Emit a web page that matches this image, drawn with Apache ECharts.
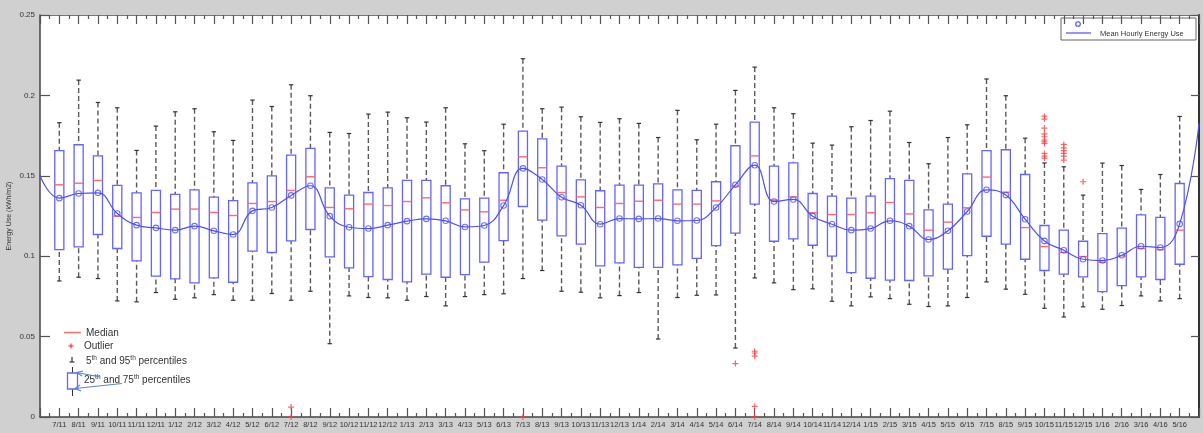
<!DOCTYPE html>
<html>
<head>
<meta charset="utf-8">
<script src="https://cdn.jsdelivr.net/npm/echarts@6/dist/echarts.min.js"></script>
<style>
html,body{margin:0;padding:0;background:#d0d0d0;}
#chart{width:1203px;height:433px;}
</style>
</head>
<body>
<div id="chart"></div>
<script>
const categories = ['7/11','8/11','9/11','10/11','11/11','12/11','1/12','2/12','3/12','4/12','5/12','6/12',
  '7/12','8/12','9/12','10/12','11/12','12/12','1/13','2/13','3/13','4/13','5/13','6/13',
  '7/13','8/13','9/13','10/13','11/13','12/13','1/14','2/14','3/14','4/14','5/14','6/14',
  '7/14','8/14','9/14','10/14','11/14','12/14','1/15','2/15','3/15','4/15','5/15','6/15',
  '7/15','8/15','9/15','10/15','11/15','12/15','1/16','2/16','3/16','4/16','5/16'];

const p95 = [0.183,0.2095,0.1956,0.1923,0.1658,0.1809,0.1898,0.1917,0.1774,0.172,0.1971,0.1931,
  0.2066,0.1998,0.177,0.1763,0.1884,0.1896,0.1861,0.1834,0.1923,0.1699,0.1656,0.1821,
  0.2228,0.1917,0.1927,0.1867,0.1832,0.1855,0.1826,0.1738,0.1907,0.1724,0.1821,0.2031,
  0.2176,0.1923,0.1886,0.1703,0.1691,0.1805,0.1844,0.1902,0.1707,0.1575,0.1738,0.1817,
  0.2102,0.1998,0.1734,0.158,0.1556,0.138,0.1579,0.1564,0.1415,0.1508,0.1869];

const q3 = [0.1656,0.1693,0.1624,0.144,0.1394,0.1409,0.1384,0.1413,0.1367,0.1346,0.1456,0.15,
  0.1628,0.167,0.1425,0.138,0.1396,0.1425,0.1471,0.1471,0.1438,0.1357,0.1361,0.1519,
  0.1778,0.173,0.156,0.1475,0.1407,0.1442,0.1442,0.145,0.1413,0.1409,0.1463,0.1687,
  0.1834,0.156,0.1581,0.139,0.1373,0.1361,0.1373,0.1483,0.1471,0.1288,0.1324,0.1512,
  0.1656,0.1662,0.1508,0.1191,0.1162,0.1093,0.1141,0.1174,0.1257,0.1241,0.1452];

const median = [0.1444,0.1454,0.1471,0.1249,0.1241,0.1272,0.1293,0.1293,0.1272,0.1253,0.1328,0.134,
  0.1409,0.1494,0.1303,0.1295,0.1324,0.1315,0.134,0.1363,0.1332,0.1288,0.1276,0.1348,
  0.1618,0.155,0.1396,0.1369,0.1303,0.1328,0.1342,0.1348,0.1324,0.1324,0.1344,0.1436,
  0.1624,0.1348,0.1369,0.127,0.1259,0.1259,0.127,0.1334,0.1263,0.1162,0.1212,0.1301,
  0.1492,0.1398,0.1178,0.106,0.1023,0.0998,0.0963,0.1002,0.1048,0.1041,0.1162];

const q1 = [0.1041,0.1058,0.1135,0.1048,0.0971,0.0876,0.0859,0.0834,0.0865,0.0838,0.1031,0.1023,
  0.1095,0.1166,0.0996,0.0927,0.0873,0.0855,0.084,0.0888,0.0869,0.0886,0.0963,0.1097,
  0.1309,0.1224,0.1126,0.1075,0.094,0.0958,0.0931,0.0931,0.0946,0.0987,0.1066,0.1143,
  0.1324,0.1093,0.1108,0.1068,0.1,0.0898,0.0863,0.0851,0.0849,0.0878,0.0919,0.1004,
  0.1124,0.1075,0.0981,0.0911,0.0888,0.0871,0.078,0.0817,0.0871,0.0855,0.095];

const p5 = [0.0846,0.0869,0.0861,0.0722,0.0716,0.0774,0.0732,0.0741,0.0761,0.0726,0.0726,0.0768,
  0.0726,0.0782,0.0456,0.0753,0.0743,0.0741,0.0726,0.0749,0.0691,0.0749,0.0761,0.0766,
  0.0861,0.0911,0.0782,0.0776,0.0741,0.0755,0.0774,0.0485,0.0743,0.0757,0.0759,0.0429,
  0.0865,0.0834,0.0792,0.0797,0.072,0.0691,0.0747,0.0736,0.0701,0.0687,0.0691,0.0743,
  0.084,0.0795,0.0763,0.0676,0.0622,0.0685,0.067,0.0693,0.0753,0.0722,0.0736];

const meanUse = [0.1361,0.139,0.1394,0.1266,0.1193,0.1176,0.1162,0.1187,0.1158,0.1135,0.1282,0.1303,
  0.1378,0.1438,0.1249,0.118,0.1172,0.1193,0.1218,0.1232,0.122,0.1182,0.1191,0.1315,
  0.1546,0.1477,0.1367,0.1317,0.1199,0.1234,0.1232,0.1234,0.122,0.1222,0.1303,0.1444,
  0.1566,0.134,0.1353,0.1249,0.1199,0.1162,0.1172,0.122,0.1187,0.1104,0.1158,0.1278,
  0.1413,0.138,0.123,0.1095,0.1037,0.0981,0.0973,0.1006,0.1062,0.1054,0.1201];

// visible ends of the fitted mean curve at the left and right plot edges
const meanCurveStart = 0.150;
const meanCurveEnd = 0.1826;

const outliers = [
  ['7/12',0.0062],['7/12',0],['7/13',0],['6/14',0.0332],
  ['7/14',0.0409],['7/14',0.0398],['7/14',0.0378],['7/14',0.0066],['7/14',0],
  ['10/15',0.1871],['10/15',0.1853],['10/15',0.1797],['10/15',0.1761],['10/15',0.1743],['10/15',0.1722],
  ['10/15',0.1711],['10/15',0.1701],['10/15',0.1639],['10/15',0.1622],['10/15',0.161],
  ['11/15',0.1695],['11/15',0.1674],['11/15',0.1656],['11/15',0.1639],['11/15',0.1622],['11/15',0.1598],
  ['12/15',0.1463]
];

const yTicks = [0, 0.05, 0.1, 0.15, 0.2, 0.25];

// ---- build ----
const FONT = 'Liberation Sans, Arial, sans-serif';
const BOX_BLUE = '#6464ff';
const LINE_BLUE = '#4f4ff5';
const RED = '#ff4040';
const boxData = categories.map((c, i) => [i + 1, p5[i], q1[i], median[i], q3[i], p95[i]]);
const meanPts = categories.map((c, i) => [i + 1, meanUse[i]]);
const meanCurve = [[0, meanCurveStart]].concat(meanPts, [[categories.length + 1, meanCurveEnd]]);
const outlierPts = outliers.map(o => [categories.indexOf(o[0]) + 1, o[1]]);

function renderBox(params, api) {
  const x = api.value(0);
  const lo = api.coord([x, api.value(1)]);
  const b1 = api.coord([x, api.value(2)]);
  const md = api.coord([x, api.value(3)]);
  const b3 = api.coord([x, api.value(4)]);
  const hi = api.coord([x, api.value(5)]);
  const w = api.size([0.47, 0])[0];
  const h = w / 2;
  const cap = 2.2;
  const dash = {stroke: '#5a5a5a', lineWidth: 1.4, lineDash: [5, 3]};
  return {
    type: 'group',
    children: [
      {type: 'line', shape: {x1: hi[0], y1: hi[1], x2: b3[0], y2: b3[1]}, style: dash},
      {type: 'line', shape: {x1: lo[0], y1: lo[1], x2: b1[0], y2: b1[1]}, style: dash},
      {type: 'line', shape: {x1: hi[0] - cap, y1: hi[1], x2: hi[0] + cap, y2: hi[1]}, style: {stroke: '#333', lineWidth: 1.2}},
      {type: 'line', shape: {x1: lo[0] - cap, y1: lo[1], x2: lo[0] + cap, y2: lo[1]}, style: {stroke: '#333', lineWidth: 1.2}},
      {type: 'rect', shape: {x: b3[0] - h, y: b3[1], width: w, height: b1[1] - b3[1]}, style: {fill: 'rgba(255,255,255,0)', stroke: BOX_BLUE, lineWidth: 1.3}},
      {type: 'line', shape: {x1: md[0] - h, y1: md[1], x2: md[0] + h, y2: md[1]}, style: {stroke: '#ff6a6a', lineWidth: 1.4}}
    ]
  };
}

const plusPath = 'path://M4,0h2v4h4v2h-4v4h-2v-4h-4v-2h4z';
const axisLabelFmt = v => (Number.isInteger(v) && v >= 1 && v <= categories.length) ? categories[v - 1] : '';

const chart = echarts.init(document.getElementById('chart'), null, {renderer: 'canvas'});
const supRich = {s: {fontSize: 6.5, fontFamily: FONT, color: '#333', verticalAlign: 'top', lineHeight: 8, padding: [0, 0, 5, 0]},
                 n: {fontSize: 10, fontFamily: FONT, color: '#333', lineHeight: 12}};

const tickStyle = {color: '#555', width: 1.2};
chart.setOption({
  animation: false,
  backgroundColor: '#d0d0d0',
  textStyle: {fontFamily: FONT},
  grid: {left: 40, right: 4, top: 15, bottom: 16, show: true, backgroundColor: '#ffffff', borderWidth: 0,
         containLabel: false, outerBoundsMode: 'none'},
  xAxis: [{
    type: 'value', min: 0, max: categories.length + 1, interval: 1, position: 'bottom',
    axisLine: {show: true, onZero: false, lineStyle: {color: '#444', width: 1.5}},
    axisTick: {show: true, inside: true, length: 9, lineStyle: tickStyle},
    minorTick: {show: true, splitNumber: 2, length: 4, lineStyle: tickStyle},
    splitLine: {show: false}, minorSplitLine: {show: false},
    axisLabel: {formatter: axisLabelFmt, fontSize: 7.5, color: '#333', margin: 4, fontFamily: FONT, showMinLabel: true, showMaxLabel: true, hideOverlap: false}
  }, {
    type: 'value', min: 0, max: categories.length + 1, interval: 1, position: 'top',
    axisLine: {show: true, onZero: false, lineStyle: {color: '#777', width: 1}},
    axisTick: {show: true, inside: true, length: 9, lineStyle: tickStyle},
    minorTick: {show: true, splitNumber: 2, length: 4, lineStyle: tickStyle},
    splitLine: {show: false}, axisLabel: {show: false}
  }],
  yAxis: [{
    type: 'value', min: yTicks[0], max: yTicks[yTicks.length - 1], interval: yTicks[1] - yTicks[0], position: 'left',
    name: 'Energy Use (kWh/m2)', nameLocation: 'middle', nameRotate: 90, nameGap: 27, nameMoveOverlap: false,
    nameTextStyle: {fontSize: 7, color: '#333', fontFamily: FONT},
    axisLine: {show: true, onZero: false, lineStyle: {color: '#444', width: 1.5}},
    axisTick: {show: true, inside: true, length: 10, lineStyle: tickStyle},
    splitLine: {show: false},
    axisLabel: {fontSize: 8, color: '#333', margin: 5, fontFamily: FONT}
  }, {
    type: 'value', min: yTicks[0], max: yTicks[yTicks.length - 1], interval: yTicks[1] - yTicks[0], position: 'right',
    axisLine: {show: true, onZero: false, lineStyle: {color: '#333', width: 2}},
    axisTick: {show: true, inside: true, length: 8, lineStyle: tickStyle},
    splitLine: {show: false}, axisLabel: {show: false}
  }],
  series: [
    {type: 'custom', name: 'box', renderItem: renderBox, data: boxData, encode: {x: 0, y: [1, 2, 3, 4, 5]}, z: 2},
    {type: 'line', name: 'Mean Hourly Energy Use', data: meanCurve, smooth: 0.45, showSymbol: false, symbol: 'none',
     lineStyle: {color: LINE_BLUE, width: 1.2}, z: 3},
    {type: 'scatter', name: 'mean', data: meanPts, symbol: 'circle', symbolSize: 5.5,
     itemStyle: {color: 'rgba(255,255,255,0)', borderColor: LINE_BLUE, borderWidth: 1.1}, z: 4},
    {type: 'scatter', name: 'Outlier', data: outlierPts, symbol: plusPath, symbolSize: 6, clip: false,
     itemStyle: {color: RED}, z: 5}
  ],
  graphic: [
    // bottom-left key
    {type: 'line', shape: {x1: 64, y1: 332.5, x2: 81, y2: 332.5}, style: {stroke: '#ff6a6a', lineWidth: 1.4}},
    {type: 'text', x: 86, y: 333, style: {text: 'Median', fontSize: 10, fontFamily: FONT, fill: '#333', verticalAlign: 'middle'}},
    {type: 'line', shape: {x1: 68.5, y1: 346, x2: 73.5, y2: 346}, style: {stroke: RED, lineWidth: 1.3}},
    {type: 'line', shape: {x1: 71, y1: 343.5, x2: 71, y2: 348.5}, style: {stroke: RED, lineWidth: 1.3}},
    {type: 'text', x: 84, y: 346.5, style: {text: 'Outlier', fontSize: 10, fontFamily: FONT, fill: '#333', verticalAlign: 'middle'}},
    {type: 'line', shape: {x1: 72, y1: 357, x2: 72, y2: 362}, style: {stroke: '#333', lineWidth: 1.2}},
    {type: 'line', shape: {x1: 69.5, y1: 362, x2: 74.5, y2: 362}, style: {stroke: '#333', lineWidth: 1.2}},
    {type: 'text', x: 86, y: 361, style: {text: '{n|5}{s|th}{n| and 95}{s|th}{n| percentiles}', rich: supRich, verticalAlign: 'middle', fill: '#333'}},
    {type: 'line', shape: {x1: 72.5, y1: 367, x2: 72.5, y2: 373}, style: {stroke: '#333', lineWidth: 1}},
    {type: 'line', shape: {x1: 72.5, y1: 389, x2: 72.5, y2: 396}, style: {stroke: '#333', lineWidth: 1}},
    {type: 'rect', shape: {x: 67.5, y: 373, width: 10, height: 16}, style: {fill: '#fff', stroke: BOX_BLUE, lineWidth: 1.3}},
    {type: 'text', x: 84, y: 380, style: {text: '{n|25}{s|th}{n| and 75}{s|th}{n| percentiles}', rich: supRich, verticalAlign: 'middle', fill: '#333'}},
    // arrows
    {type: 'polyline', shape: {points: [[100, 377], [77, 372.5]]}, style: {stroke: '#5a86d2', lineWidth: 1.2, fill: null}},
    {type: 'polyline', shape: {points: [[83, 371], [77, 372.5], [82, 376]]}, style: {stroke: '#5a86d2', lineWidth: 1.2, fill: null}},
    {type: 'polyline', shape: {points: [[122, 383.5], [75, 388.5]]}, style: {stroke: '#5a86d2', lineWidth: 1.2, fill: null}},
    {type: 'polyline', shape: {points: [[80, 385], [75, 388.5], [81, 391]]}, style: {stroke: '#5a86d2', lineWidth: 1.2, fill: null}},
    // top-right legend
    {type: 'rect', shape: {x: 1061, y: 18, width: 135, height: 22}, style: {fill: '#fff', stroke: '#666', lineWidth: 1}},
    {type: 'circle', shape: {cx: 1078, cy: 24, r: 2.3}, style: {fill: 'none', stroke: LINE_BLUE, lineWidth: 1.1}},
    {type: 'line', shape: {x1: 1066, y1: 33, x2: 1091, y2: 33}, style: {stroke: LINE_BLUE, lineWidth: 1.2}},
    {type: 'text', x: 1100, y: 33.5, style: {text: 'Mean Hourly Energy Use', fontSize: 7.5, fontFamily: FONT, fill: '#333', verticalAlign: 'middle'}}
  ]
});
</script>
</body>
</html>
